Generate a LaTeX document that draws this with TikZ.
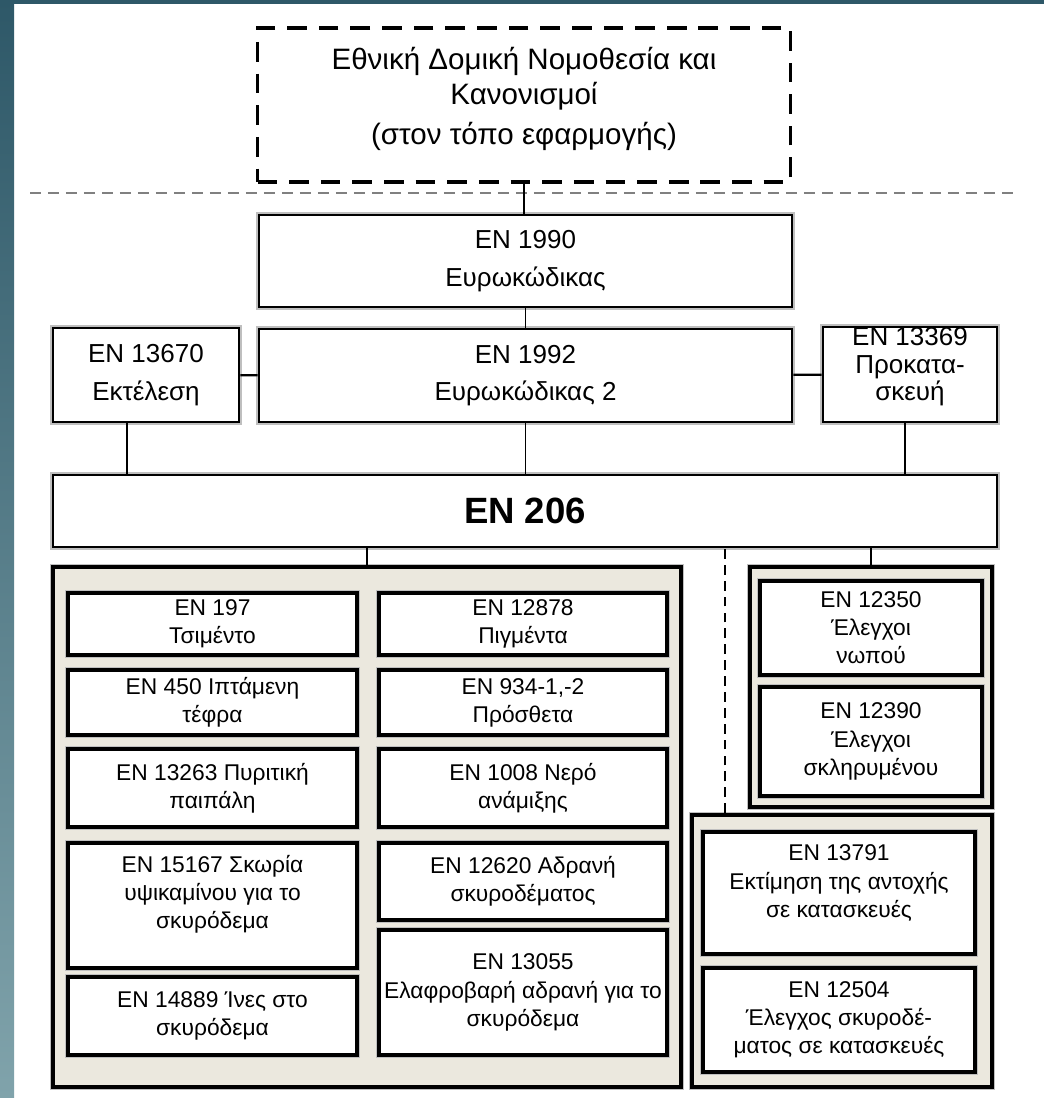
\documentclass[tikz,border=0pt]{standalone}
\usepackage{fontspec}
\setmainfont{Liberation Sans}
\usetikzlibrary{positioning}

\definecolor{panelbg}{HTML}{EBE8DE}
\definecolor{frametop}{HTML}{2E5868}
\definecolor{framebot}{HTML}{80A3AB}
\newcommand{\px}{0.025cm}

\begin{document}
\begin{tikzpicture}[
      x=0.025cm, y=-0.025cm,
      every node/.style={inner sep=0pt, align=center},
      natbox/.style={draw, line width=2.4pt, dash pattern=on 14pt off 8.5pt},
      nattext/.style={font=\fontsize{21}{25}\selectfont},
      codebox/.style={draw, fill=white, line width=1.8pt,
        preaction={draw=black!25, line width=3.8pt}, font=\fontsize{18.5}{26.5}\selectfont},
      stdbox/.style={draw, fill=white, line width=2.3pt,
        preaction={draw=black!25, line width=4.3pt}, font=\fontsize{16.2}{20}\selectfont},
      stdtext/.style={font=\fontsize{16.2}{20}\selectfont},
      panel/.style={draw, fill=panelbg, line width=2.8pt,
        preaction={draw=black!25, line width=4.8pt}},
      link/.style={line width=0.9pt},
      ]

      \useasboundingbox (0,0) rectangle (1044,1098);
      \fill[white] (0,0) rectangle (1044,1098);
      \shade[top color=frametop, bottom color=framebot] (0,0) rectangle (14,1098);
      \fill[frametop] (0,0) rectangle (1044,4);

      % national level
      \node[natbox, minimum width=533*\px, minimum height=154*\px] (nat) at (524,105) {};
      \node[nattext] (nat_txt) at (524,99) {Εθνική Δομική Νομοθεσία και\\Κανονισμοί\\[3pt](στον τόπο εφαρμογής)};
      \coordinate (div_l) at (30,193);
      \coordinate (div_r) at (1016,193);
      \draw[black!50, line width=2pt, dash pattern=on 7.8pt off 5pt] (div_l) -- (div_r);

      % eurocodes
      \node[codebox, minimum width=533*\px, minimum height=92*\px] (en1990) at (525.5,261) {EN 1990\\Ευρωκώδικας};
      \node[codebox, minimum width=186*\px, minimum height=94*\px] (en13670) at (146,375) {EN 13670\\Εκτέλεση};
      \node[codebox, minimum width=533*\px, minimum height=93*\px] (en1992) at (525.5,375.5) {EN 1992\\Ευρωκώδικας 2};
      \node[codebox, minimum width=174*\px, minimum height=95*\px] (en13369) at (910,374.5) {};
      \node[font=\fontsize{18.5}{19.5}\selectfont] (en13369_txt) at (910,367) {EN 13369\\Προκατα-\\σκευή};
      \node[codebox, minimum width=944*\px, minimum height=72*\px, font=\bfseries\fontsize{26}{30}\selectfont] (en206) at (525,511) {EN 206};

      % panels
      \node[panel, minimum width=628*\px, minimum height=520*\px] (pan_l) at (367,827) {};
      \node[panel, minimum width=242*\px, minimum height=240*\px] (pan_r) at (871,687) {};
      \node[panel, minimum width=300*\px, minimum height=272*\px] (pan_b) at (842,951) {};

      % constituents
      \node[stdbox, minimum width=289*\px, minimum height=62*\px] (en197) at (212.5,624) {EN 197\\Τσιμέντο};
      \node[stdbox, minimum width=288*\px, minimum height=62*\px] (en12878) at (523,624) {EN 12878\\Πιγμέντα};
      \node[stdbox, minimum width=289*\px, minimum height=65*\px] (en450) at (212.5,702.5) {EN 450 Ιπτάμενη\\τέφρα};
      \node[stdbox, minimum width=288*\px, minimum height=65*\px] (en934) at (523,702.5) {EN 934-1,-2\\Πρόσθετα};
      \node[stdbox, minimum width=289*\px, minimum height=78*\px] (en13263) at (212.5,788) {EN 13263 Πυριτική\\παιπάλη};
      \node[stdbox, minimum width=288*\px, minimum height=78*\px] (en1008) at (523,788) {EN 1008 Νερό\\ανάμιξης};
      \node[stdbox, minimum width=289*\px, minimum height=125*\px] (en15167) at (212.5,905.5) {};
      \node[stdtext] (en15167_txt) at (212.5,894) {EN 15167 Σκωρία\\υψικαμίνου για το\\σκυρόδεμα};
      \node[stdbox, minimum width=288*\px, minimum height=77*\px] (en12620) at (523,881.5) {EN 12620 Αδρανή\\σκυροδέματος};
      \node[stdbox, minimum width=289*\px, minimum height=78*\px] (en14889) at (212.5,1016) {EN 14889 Ίνες στο\\σκυρόδεμα};
      \node[stdbox, minimum width=288*\px, minimum height=125*\px] (en13055) at (523,992.5) {EN 13055\\Ελαφροβαρή αδρανή για το\\σκυρόδεμα};

      % tests
      \node[stdbox, minimum width=222*\px, minimum height=94*\px] (en12350) at (871,628) {EN 12350\\Έλεγχοι\\νωπού};
      \node[stdbox, minimum width=222*\px, minimum height=109*\px] (en12390) at (871,741.5) {EN 12390\\Έλεγχοι\\σκληρυμένου};
      \node[stdbox, minimum width=272*\px, minimum height=122*\px] (en13791) at (839,893) {};
      \node[stdtext] (en13791_txt) at (839,883) {EN 13791\\Εκτίμηση της αντοχής\\σε κατασκευές};
      \node[stdbox, minimum width=272*\px, minimum height=104*\px] (en12504) at (839,1020) {EN 12504\\Έλεγχος σκυροδέ-\\ματος σε κατασκευές};

      % connectors
      \draw[link] (nat.south) -- (nat.south |- en1990.north);
      \draw[link] (en1990) -- (en1992);
      \draw[link, line width=1.6pt] (en13670) -- (en1992);
      \draw[link, line width=1.6pt] (en1992) -- (en13369);
      \draw[link] ([xshift=-13.5pt]en13670.south) -- ([xshift=-13.5pt]en13670.south |- en206.north);
      \draw[link] (en1992) -- (en1992 |- en206.north);
      \draw[link] ([xshift=-3.5pt]en13369.south) -- ([xshift=-3.5pt]en13369.south |- en206.north);
      \draw[link] (pan_l.north) -- (pan_l.north |- en206.south);
      \draw[link] (pan_r.north) -- (pan_r.north |- en206.south);
      \draw[link, line width=1.4pt, dash pattern=on 7pt off 4.3pt] ([xshift=24.9pt]pan_b.north west) -- ([xshift=24.9pt]pan_b.north west |- en206.south);
    \end{tikzpicture}
\end{document}
